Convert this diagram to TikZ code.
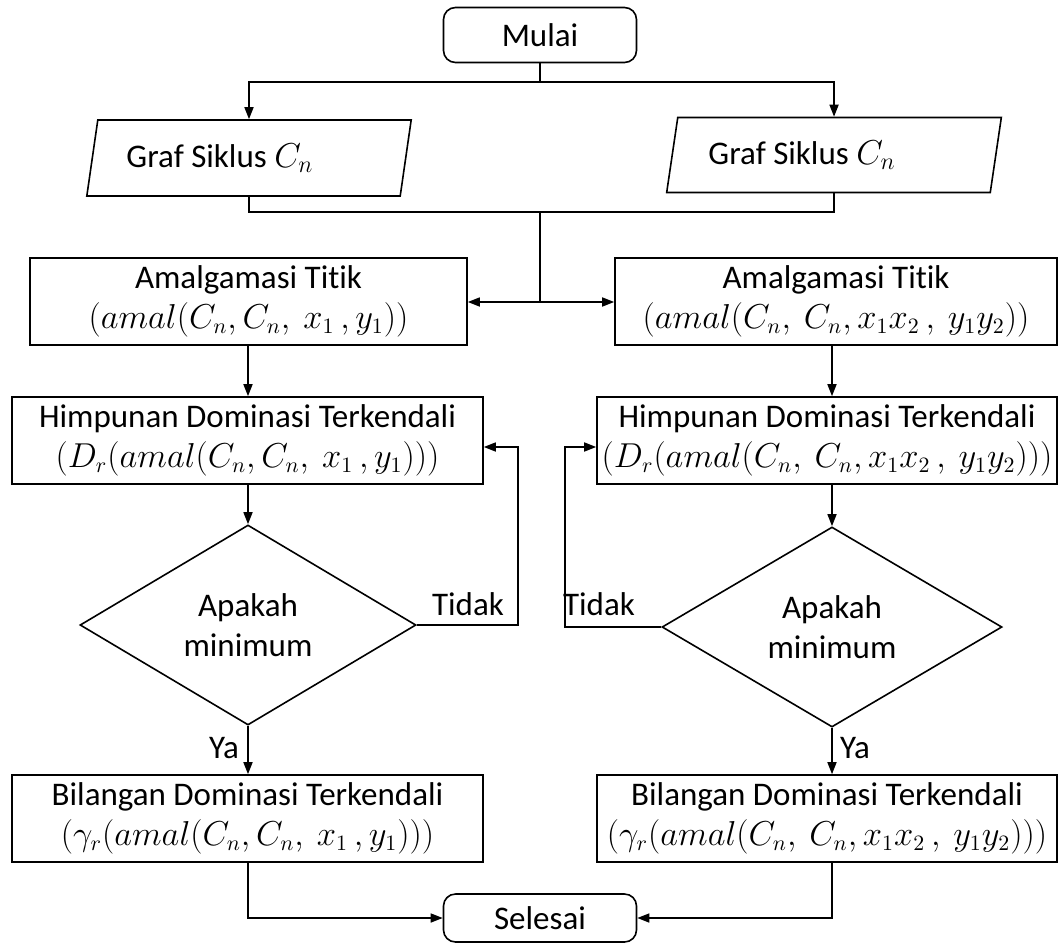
\documentclass[tikz,border=0pt]{standalone}
\usepackage{fontspec}
\setmainfont{Carlito}[Ligatures=NoCommon]
\usetikzlibrary{arrows.meta,shapes.geometric}

\newcommand{\rumus}[1]{{\fontsize{16}{20}\selectfont $#1$}}

\begin{document}
\begin{tikzpicture}[x=0.5pt, y=-0.5pt,
  >={Triangle[length=6pt,width=4.5pt]},
  box/.style={
    draw,
    line width=0.8pt,
    align=center,
    font=\fontsize{16.5}{20}\selectfont,
    inner sep=2pt
  },
  term/.style={box, rounded corners=6pt, minimum width=96.5pt, minimum height=27.5pt},
  io/.style={box, trapezium, trapezium left angle=76, trapezium right angle=104,
    trapezium stretches=true, minimum height=38pt},
  proc/.style={box, minimum height=43.5pt},
  decis/.style={box, diamond, inner sep=1pt},
  lbl/.style={font=\fontsize{16.5}{20}\selectfont, inner sep=1pt},
  arr/.style={->, line width=0.8pt},
  conn/.style={line width=0.8pt}
]
\useasboundingbox (0,0) rectangle (1059,943);

\node[term] (mulai) at (540,35) {Mulai};
\node[io, minimum width=162.5pt] (graf1) at (249,158) {Graf Siklus $C_n$\hspace*{29pt}};
\node[io, minimum width=167.5pt, minimum height=37.5pt] (graf2) at (834,155) {Graf Siklus $C_n$\hspace*{32pt}};

\node[proc, minimum width=218.5pt] (amal1) at (248.5,301.5)
{Amalgamasi Titik\\ \rumus{(amal(C_n,C_n,\ x_1\,,y_1))}};
\node[proc, minimum width=221pt] (amal2) at (836,301.5)
{Amalgamasi Titik\\ \rumus{(amal(C_n,\ C_n,x_1x_2\,,\ y_1y_2))}};

\node[proc, minimum width=235.5pt] (him1) at (247.5,440.5)
{Himpunan Dominasi Terkendali\\ \rumus{(D_r(amal(C_n,C_n,\ x_1\,,y_1)))}};
\node[proc, minimum width=230pt] (him2) at (827,440.5)
{Himpunan Dominasi Terkendali\\ \rumus{(D_r(amal(C_n,\ C_n,x_1x_2\,,\ y_1y_2)))}};

\node[decis, minimum width=168pt, minimum height=92.5pt] (cek1) at (248,625) {Apakah\\ minimum};
\node[decis, minimum width=170pt, minimum height=85.5pt] (cek2) at (832,627) {Apakah\\ minimum};

\node[proc, minimum width=235.5pt] (bil1) at (247.5,818.5)
{Bilangan Dominasi Terkendali\\ \rumus{(\gamma_r(amal(C_n,C_n,\ x_1\,,y_1)))}};
\node[proc, minimum width=230pt] (bil2) at (827,818.5)
{Bilangan Dominasi Terkendali\\ \rumus{(\gamma_r(amal(C_n,\ C_n,x_1x_2\,,\ y_1y_2)))}};

\node[term, minimum height=24pt] (selesai) at (540,918) {Selesai};

% label cabang
\node[lbl] (tidak1) at (468,604) {Tidak};
\node[lbl] (tidak2) at (599,604) {Tidak};
\node[lbl] (ya1) at (224,748) {Ya};
\node[lbl] (ya2) at (855,748) {Ya};

% titik belok
\coordinate (pisah1) at (540,82);
\coordinate (gabung) at (540,212);
\coordinate (pisah2) at (540,302);
\coordinate (balik1) at (518,447);
\coordinate (balik2) at (565,447);

\draw[conn] (mulai) -- (pisah1);
\draw[arr] (pisah1) -| (graf1);
\draw[arr] (pisah1) -| (graf2);
\draw[conn] (graf1) |- (gabung);
\draw[conn] (graf2) |- (gabung);
\draw[conn] (gabung) -- (pisah2);
\draw[arr] (pisah2) -- (amal1.east |- pisah2);
\draw[arr] (pisah2) -- (amal2.west |- pisah2);

\draw[arr] (amal1.south -| cek1) -- (him1.north -| cek1);
\draw[arr] (amal2.south -| cek2) -- (him2.north -| cek2);
\draw[arr] (him1.south -| cek1) -- (cek1);
\draw[arr] (him2.south -| cek2) -- (cek2);

\draw[arr] (cek1.east) -| (balik1) -- (balik1 -| him1.east);
\draw[arr] (cek2.west) -| (balik2) -- (balik2 -| him2.west);

\draw[arr] (cek1.south) -- (bil1.north -| cek1);
\draw[arr] (cek2.south) -- (bil2.north -| cek2);

\draw[arr] (bil1.south -| cek1) |- (selesai);
\draw[arr] (bil2.south -| cek2) |- (selesai);
\end{tikzpicture}
\end{document}
